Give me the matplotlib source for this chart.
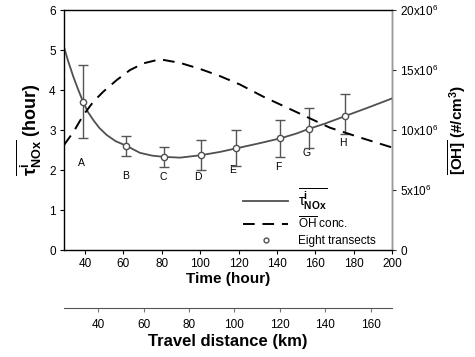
import matplotlib
matplotlib.use("Agg")
import matplotlib.pyplot as plt
from matplotlib.lines import Line2D

plt.rcParams["font.family"] = ["Liberation Sans", "DejaVu Sans"]
plt.rcParams["mathtext.fontset"] = "custom"
plt.rcParams["mathtext.rm"] = "Liberation Sans"
plt.rcParams["mathtext.it"] = "Liberation Sans:italic"
plt.rcParams["mathtext.bf"] = "Liberation Sans:bold"

# ── data ─────────────────────────────────────────────────────────────────────
# tau curve (hour) vs time (hour)
tau_t = [29, 31, 33.9, 36.5, 39, 41.5, 44.3, 47.5, 51.3, 56, 61.4, 68.6, 75, 81,
         89.5, 100.2, 110, 118.6, 130, 141.6, 150, 156.7, 165, 175.6, 188, 200]
tau_v = [5.08, 4.75, 4.33, 4.0, 3.7, 3.45, 3.25, 3.05, 2.875, 2.72, 2.61, 2.43,
         2.36, 2.33, 2.31, 2.37, 2.45, 2.54, 2.66, 2.79, 2.91, 3.03, 3.16, 3.35,
         3.57, 3.79]

# OH concentration (x10^6 #/cm3) vs time
oh_t = [29, 34, 39.1, 44.3, 49.5, 56.5, 63.4, 70.4, 79, 89.5, 99.9, 110.3, 120.7,
        132.7, 150.2, 167.6, 184.9, 200]
oh_v = [8.75, 9.86, 11.25, 12.36, 13.2, 14.17, 15.0, 15.56, 15.9, 15.6, 15.1,
        14.5, 13.8, 12.8, 11.5, 10.2, 9.3, 8.55]

# eight transects
tr_names = ["A", "B", "C", "D", "E", "F", "G", "H"]
tr_t = [39, 61.4, 81.1, 100.2, 118.6, 141.6, 156.7, 175.6]
tr_v = [3.70, 2.61, 2.33, 2.37, 2.54, 2.79, 3.03, 3.35]
tr_lo = [2.79, 2.36, 2.08, 2.00, 2.10, 2.32, 2.56, 2.89]
tr_hi = [4.62, 2.86, 2.57, 2.75, 3.00, 3.25, 3.54, 3.90]
lab_t = [38, 61, 80.6, 99, 117, 141, 155.6, 174.4]
lab_v = [2.17, 1.86, 1.83, 1.82, 2.0, 2.08, 2.42, 2.68]

time_ticks = [40, 60, 80, 100, 120, 140, 160, 180, 200]
tau_ticks = [0, 1, 2, 3, 4, 5, 6]
oh_ticks = [0, 5, 10, 15, 20]
oh_ticklabels = ["0", "5x10$^{6}$", "10x10$^{6}$", "15x10$^{6}$", "20x10$^{6}$"]
dist_ticks = [40, 60, 80, 100, 120, 140, 160]
dist_lim = (25.0, 169.3)

# ── figure ───────────────────────────────────────────────────────────────────
fig = plt.figure(figsize=(4.75, 3.57), dpi=100)
ax = fig.add_axes([0.1347, 0.2997, 0.6905, 0.672])
axr = ax.twinx()

line_col = "#505050"
ax.plot(tau_t, tau_v, color=line_col, lw=1.3, zorder=3)
yerr = [[v - lo for v, lo in zip(tr_v, tr_lo)], [hi - v for v, hi in zip(tr_v, tr_hi)]]
ax.errorbar(tr_t, tr_v, yerr=yerr, fmt="o", ms=4.5, mfc="white", mec=line_col,
            mew=1.0, ecolor="#555555", elinewidth=1.0, capsize=3.5, capthick=1.0,
            zorder=4)
for name, x, y in zip(tr_names, lab_t, lab_v):
    ax.text(x, y, name, ha="center", va="center", fontsize=7.5)

axr.plot(oh_t, oh_v, color="black", lw=1.4, dashes=(6, 4), zorder=2)

ax.set_xlim(29, 200)
ax.set_ylim(0, 6)
axr.set_ylim(0, 20)
ax.set_xticks(time_ticks)
ax.set_yticks(tau_ticks)
axr.set_yticks(oh_ticks)
axr.set_yticklabels(oh_ticklabels)
ax.tick_params(labelsize=8.5, length=3, width=0.8, pad=3)
axr.tick_params(labelsize=8.5, length=3, width=0.8, pad=3, colors="#333333",
                labelcolor="black")
for s in ax.spines.values():
    s.set_color("#333333")
    s.set_linewidth(1.0)
axr.spines["right"].set_color("#999999")

ax.set_xlabel("Time (hour)", fontsize=11, fontweight="bold", labelpad=1)
ax.set_ylabel(r"$\overline{\mathbf{\tau}^{\mathbf{i}}_{\mathbf{NOx}}}$ (hour)",
              fontsize=13, fontweight="bold", labelpad=4)
axr.set_ylabel(r"$\overline{\mathbf{[OH]}}$ (#/cm$^{\mathbf{3}}$)", fontsize=11,
               fontweight="bold", labelpad=6)

handles = [
    Line2D([], [], color=line_col, lw=1.3),
    Line2D([], [], color="black", lw=1.4, dashes=(6, 4)),
    Line2D([], [], ls="none", marker="o", ms=3.5, mfc="white", mec=line_col),
]
labels = [r"$\overline{\mathrm{\tau}^{\mathbf{i}}_{\mathbf{NOx}}}$",
          r"$\overline{\rm OH}$ conc.", "Eight transects"]
leg = fig.legend(handles, labels, loc="upper left", bbox_to_anchor=(0.50, 0.495),
                 frameon=False, fontsize=8.5, handlelength=3.8, handletextpad=0.8,
                 labelspacing=0.3, borderpad=0)
leg.get_texts()[0].set_fontsize(10.5)

# travel distance axis
axd = fig.add_axes([0.1347, 0.137, 0.6905, 0.001])
axd.set_xlim(*dist_lim)
axd.set_xticks(dist_ticks)
axd.set_yticks([])
for side in ["left", "right", "top"]:
    axd.spines[side].set_visible(False)
axd.spines["bottom"].set_color("#555555")
axd.tick_params(axis="x", labelsize=8.5, length=3, width=0.8, pad=5, colors="#777777",
                labelcolor="black")
axd.patch.set_alpha(0)
axd.set_xlabel("Travel distance (km)", fontsize=12, fontweight="bold", labelpad=2)

fig.savefig("out.png", dpi=100)
